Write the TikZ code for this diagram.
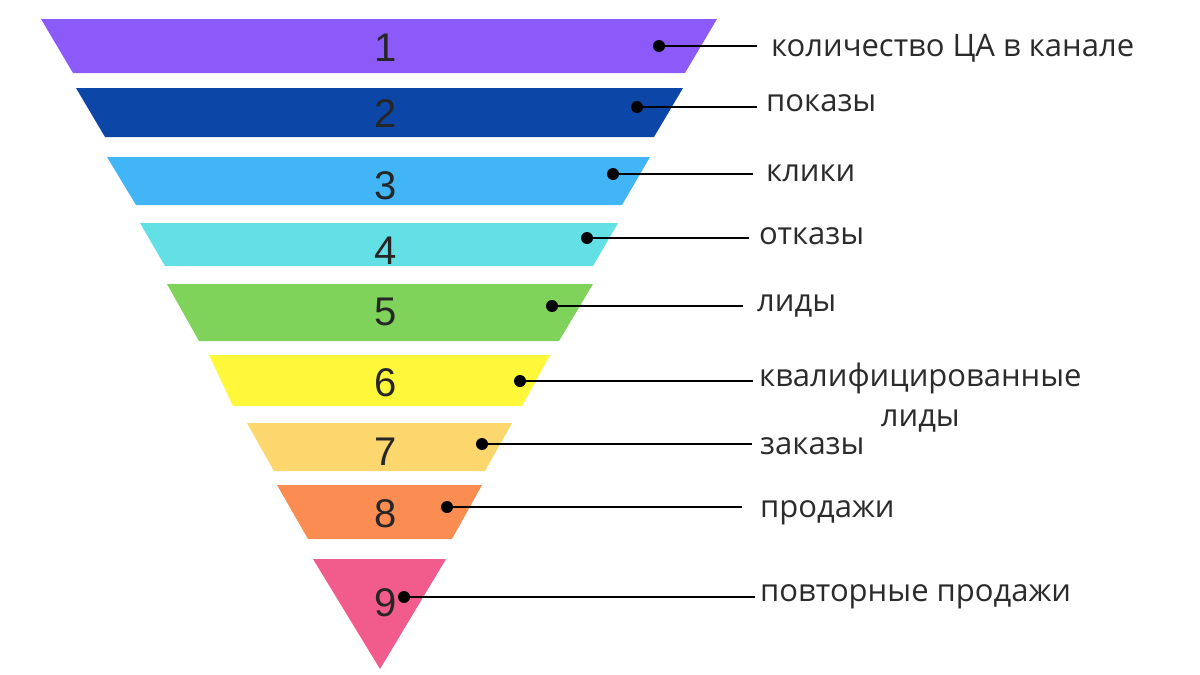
\documentclass[tikz,border=0pt]{standalone}
\usepackage{fontspec}
\setmainfont{Open Sans}
\newfontfamily\numfont{Liberation Sans}
\definecolor{cA}{HTML}{8C5AF8}
\definecolor{cB}{HTML}{0C47A8}
\definecolor{cC}{HTML}{42B5F7}
\definecolor{cD}{HTML}{63E0E6}
\definecolor{cE}{HTML}{7FD35A}
\definecolor{cF}{HTML}{FFF83A}
\definecolor{cG}{HTML}{FCD76E}
\definecolor{cH}{HTML}{FC8D52}
\definecolor{cI}{HTML}{F25C8C}
\definecolor{numgray}{HTML}{262626}
\definecolor{lblgray}{HTML}{2B2B2B}
\begin{document}
\begin{tikzpicture}[x=1pt,y=-1pt,
  num/.style={font=\numfont\fontsize{40}{40}\selectfont, text=numgray, inner sep=0pt},
  dot/.style={circle, fill=black, inner sep=0pt, minimum size=12pt},
  lead/.style={line width=2.8pt, draw=black},
  lbl/.style={font=\fontsize{31}{40}\selectfont, text=lblgray, anchor=base west, inner sep=0pt}]
\useasboundingbox[fill=white] (0,0) rectangle (1200,675);
% bands
\fill[cA] (41,19) -- (717,19) -- (685,73) -- (73,73) -- cycle;
\fill[cB] (76,88) -- (683,88) -- (654,137) -- (105,137) -- cycle;
\fill[cC] (107,157) -- (650,157) -- (622,205) -- (136,205) -- cycle;
\fill[cD] (140,223) -- (618,223) -- (593,266) -- (165,266) -- cycle;
\fill[cE] (167,284) -- (593,284) -- (559,341) -- (199,341) -- cycle;
\fill[cF] (209,355) -- (550,355) -- (522,406) -- (233,406) -- cycle;
\fill[cG] (247,423) -- (512,423) -- (485,471) -- (274,471) -- cycle;
\fill[cH] (277,485) -- (482,485) -- (452,539) -- (308,539) -- cycle;
\fill[cI] (313,559) -- (446,559) -- (380,669) -- cycle;
% numbers
\node[num] (n1) at (386,48) {1};
\node[num] (n2) at (386,114) {2};
\node[num] (n3) at (386,186) {3};
\node[num] (n4) at (386,251) {4};
\node[num] (n5) at (386,312) {5};
\node[num] (n6) at (386,383) {6};
\node[num] (n7) at (386,452) {7};
\node[num] (n8) at (386,514) {8};
\node[num] (n9) at (386,603) {9};
% dots
\node[dot] (d1) at (659,46) {};
\node[dot] (d2) at (637,107) {};
\node[dot] (d3) at (613,174) {};
\node[dot] (d4) at (587,238) {};
\node[dot] (d5) at (552,306) {};
\node[dot] (d6) at (520,381) {};
\node[dot] (d7) at (482,444) {};
\node[dot] (d8) at (447,507) {};
\node[dot] (d9) at (404,597) {};
% line ends
\coordinate (e1) at (757,46);
\coordinate (e2) at (757,107);
\coordinate (e3) at (753,174);
\coordinate (e4) at (749,238);
\coordinate (e5) at (743,306);
\coordinate (e6) at (753,381);
\coordinate (e7) at (752,444);
\coordinate (e8) at (742,507);
\coordinate (e9) at (755,597);
\foreach \i in {1,...,9} \draw[lead] (d\i.center) -- (e\i);
% labels
\node[lbl] (t1) at (771,56) {количество ЦА в канале};
\node[lbl] (t2) at (766,111) {показы};
\node[lbl] (t3) at (766,181) {клики};
\node[lbl] (t4) at (759,244) {отказы};
\node[lbl] (t5) at (757,311) {лиды};
\node[lbl, align=center] (t6) at (759,426) {квалифицированные\\лиды};
\node[lbl] (t7) at (760,454) {заказы};
\node[lbl] (t8) at (760,517) {продажи};
\node[lbl] (t9) at (760,601) {повторные продажи};
\end{tikzpicture}
\end{document}
